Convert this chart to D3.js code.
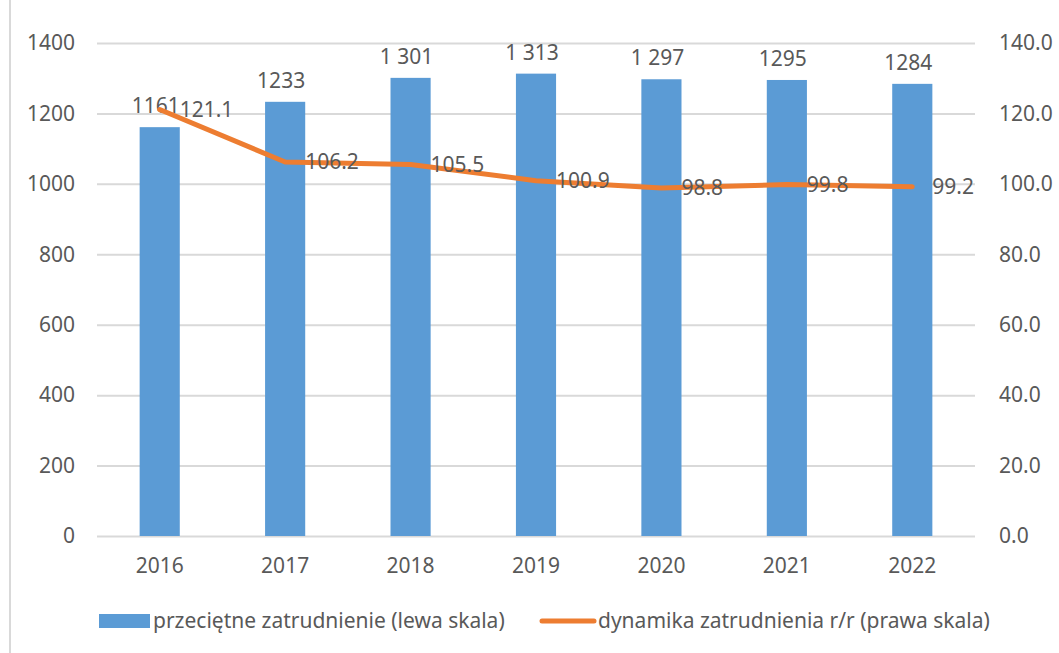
<!DOCTYPE html>
<html>
<head>
<meta charset="utf-8">
<script src="https://cdn.jsdelivr.net/npm/d3@7"></script>
<style>
  body { margin: 0; background: #fff; }
  svg text { font-family: "Noto Sans", "Open Sans", sans-serif; fill: #595959; }
</style>
</head>
<body>
<svg id="chart" width="1059" height="653"></svg>
<script>
// data
const years = ['2016', '2017', '2018', '2019', '2020', '2021', '2022'];
const employment = [1161, 1233, 1301, 1313, 1297, 1295, 1284];
const employmentLabels = ['1161', '1233', '1 301', '1 313', '1 297', '1295', '1284'];
const dynamics = [121.1, 106.2, 105.5, 100.9, 98.8, 99.8, 99.2];
const leftTicks = [0, 200, 400, 600, 800, 1000, 1200, 1400];
const rightTicks = [0, 20, 40, 60, 80, 100, 120, 140];
const legendNames = ['przeciętne zatrudnienie (lewa skala)', 'dynamika zatrudnienia r/r (prawa skala)'];

const blue = '#5b9bd5';
const orange = '#ed7d31';
const grid = '#d9d9d9';

const width = 1059;
const height = 653;
const margin = { top: 43, right: 84, bottom: 117, left: 97 };
const fontSize = 21;

const svg = d3.select('#chart');

const x = d3
  .scaleBand()
  .domain(years)
  .range([margin.left, width - margin.right])
  .paddingInner(0.68)
  .paddingOuter(0.34);

const yLeft = d3
  .scaleLinear()
  .domain([0, 1400])
  .range([height - margin.bottom, margin.top]);

const yRight = d3
  .scaleLinear()
  .domain([0, 140])
  .range([height - margin.bottom, margin.top]);

// chart border on the left edge
svg.append('line')
  .attr('x1', 10).attr('x2', 10)
  .attr('y1', 0).attr('y2', height)
  .attr('stroke', grid)
  .attr('stroke-width', 2);

// gridlines + left axis
const leftAxis = d3.axisLeft(yLeft)
  .tickValues(leftTicks)
  .tickSize(-(width - margin.left - margin.right))
  .tickPadding(22)
  .tickFormat(d3.format('d'));

const gLeft = svg.append('g')
  .attr('transform', `translate(${margin.left},0)`)
  .call(leftAxis);
gLeft.select('.domain').remove();
gLeft.selectAll('.tick line').attr('stroke', grid).attr('stroke-width', 2);

// right axis, labels only
const rightAxis = d3.axisRight(yRight)
  .tickValues(rightTicks)
  .tickSize(0)
  .tickPadding(24)
  .tickFormat(d3.format('.1f'));

const gRight = svg.append('g')
  .attr('transform', `translate(${width - margin.right},0)`)
  .call(rightAxis);
gRight.select('.domain').remove();

// x axis
const gX = svg.append('g')
  .attr('transform', `translate(0,${height - margin.bottom})`)
  .call(d3.axisBottom(x).tickSize(0).tickPadding(22));
gX.select('.domain').remove();

svg.selectAll('g.tick text')
  .attr('fill', '#595959')
  .attr('font-family', null)
  .attr('font-size', fontSize);

// bars
svg.append('g')
  .selectAll('rect')
  .data(employment)
  .join('rect')
  .attr('x', (d, i) => x(years[i]))
  .attr('y', (d) => yLeft(d))
  .attr('width', x.bandwidth())
  .attr('height', (d) => yLeft(0) - yLeft(d))
  .attr('fill', blue);

// bar labels
svg.append('g')
  .selectAll('text')
  .data(employment)
  .join('text')
  .attr('x', (d, i) => x(years[i]) + x.bandwidth() / 2 - 4)
  .attr('y', (d) => yLeft(d) - 14)
  .attr('text-anchor', 'middle')
  .attr('font-size', fontSize)
  .text((d, i) => employmentLabels[i]);

// dynamics line
const line = d3.line()
  .x((d, i) => x(years[i]) + x.bandwidth() / 2)
  .y((d) => yRight(d));

svg.append('path')
  .datum(dynamics)
  .attr('d', line)
  .attr('fill', 'none')
  .attr('stroke', orange)
  .attr('stroke-width', 5)
  .attr('stroke-linejoin', 'round')
  .attr('stroke-linecap', 'round');

// line labels to the right of each point
svg.append('g')
  .selectAll('text')
  .data(dynamics)
  .join('text')
  .attr('x', (d, i) => x(years[i]) + x.bandwidth() / 2 + 20)
  .attr('y', (d) => yRight(d))
  .attr('dy', '0.35em')
  .attr('font-size', fontSize)
  .text((d) => d.toFixed(1));

// legend
const legendY = 621;
const legend = svg.append('g');

legend.append('rect')
  .attr('x', 99).attr('y', legendY - 7)
  .attr('width', 51).attr('height', 14)
  .attr('fill', blue);
legend.append('text')
  .attr('x', 153).attr('y', legendY)
  .attr('dy', '0.35em')
  .attr('font-size', fontSize)
  .text(legendNames[0]);

legend.append('line')
  .attr('x1', 542).attr('x2', 594)
  .attr('y1', legendY).attr('y2', legendY)
  .attr('stroke', orange)
  .attr('stroke-width', 5)
  .attr('stroke-linecap', 'round');
legend.append('text')
  .attr('x', 598).attr('y', legendY)
  .attr('dy', '0.35em')
  .attr('font-size', fontSize)
  .text(legendNames[1]);
</script>
</body>
</html>
